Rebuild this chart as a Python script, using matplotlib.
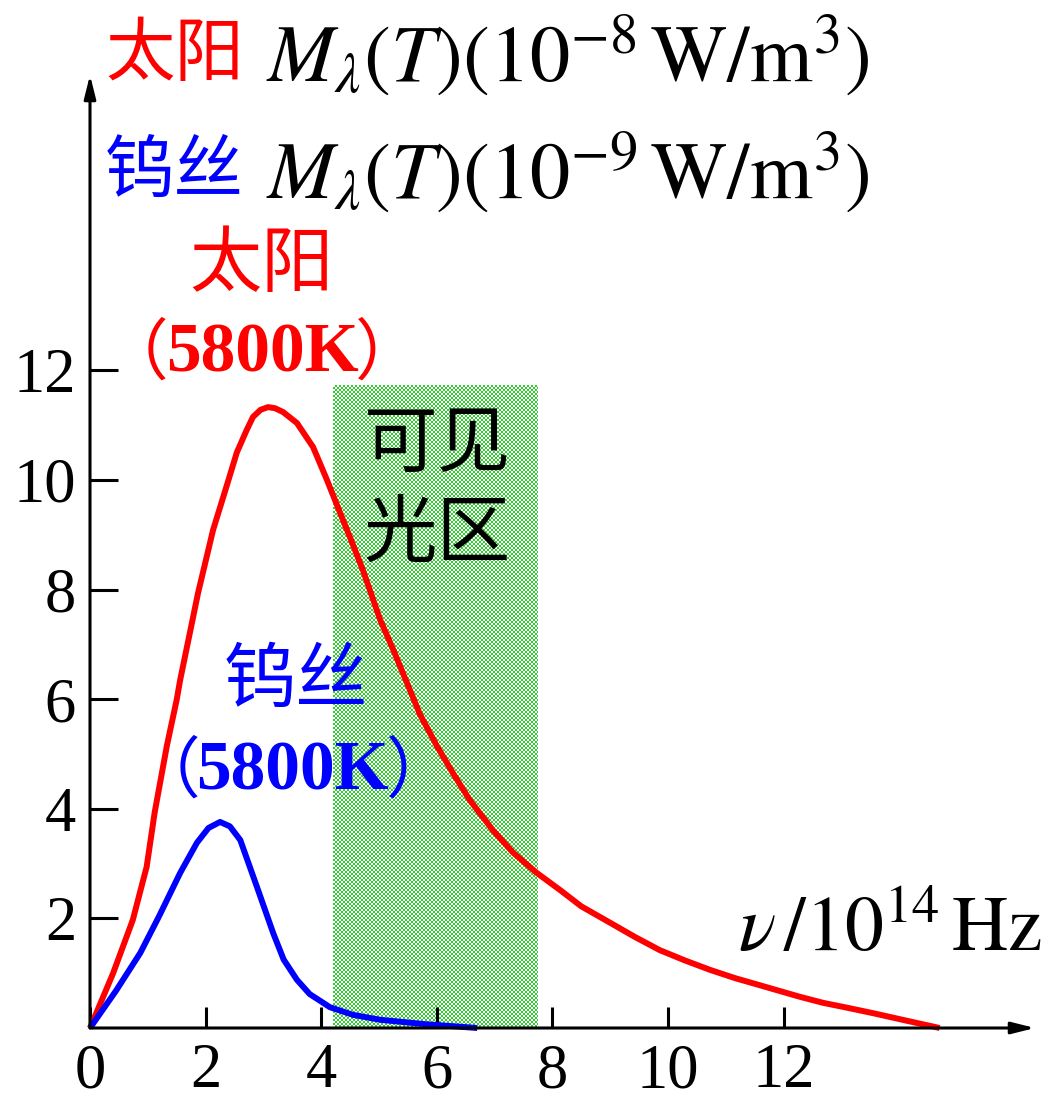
import numpy as np
import matplotlib
matplotlib.use('Agg')
import matplotlib.pyplot as plt

# values (x in 1e14 Hz)
sun_x = [0, 0.4, 0.74, 0.98, 1.12, 1.33, 1.5, 1.56, 1.87, 2.13, 2.37, 2.54, 2.71, 2.82,
         2.95, 3.08, 3.2, 3.34, 3.58, 3.86, 4.1, 4.27, 4.5, 4.72, 5.02, 5.24, 5.71, 6.0,
         6.28, 6.57, 6.97, 7.32, 7.73, 8.13, 8.5, 9.0, 9.43, 9.86, 10.3, 10.73, 11.16,
         11.59, 12.28, 12.68, 13.1, 13.55, 14.1, 14.7]
sun_y = [0, 1.0, 1.97, 2.94, 3.94, 5.15, 5.99, 6.35, 7.94, 9.09, 9.91, 10.5, 10.91, 11.15,
         11.28, 11.33, 11.31, 11.24, 11.04, 10.6, 10.0, 9.55, 8.95, 8.36, 7.45, 6.92, 5.72,
         5.15, 4.65, 4.16, 3.61, 3.2, 2.83, 2.52, 2.22, 1.92, 1.66, 1.42, 1.23, 1.06, 0.91,
         0.78, 0.57, 0.46, 0.37, 0.27, 0.14, 0.0]

wire_x = [0, 0.45, 0.87, 1.2, 1.56, 1.85, 2.05, 2.25, 2.42, 2.6, 2.89, 3.17, 3.35, 3.58,
          3.8, 4.15, 4.55, 5.02, 5.8, 6.7]
wire_y = [0, 0.68, 1.37, 2.05, 2.83, 3.38, 3.65, 3.76, 3.68, 3.43, 2.57, 1.73, 1.25, 0.88,
          0.62, 0.38, 0.24, 0.15, 0.07, 0.0]

visible = [4.2, 7.75]          # visible light band
visible_top = 11.73

xticks = [0, 2, 4, 6, 8, 10, 12]
yticks = [2, 4, 6, 8, 10, 12]

plt.rcParams['font.family'] = ['Liberation Serif', 'Noto Sans CJK SC']
plt.rcParams['mathtext.fontset'] = 'stix'

W, H = 1048, 1100
fig = plt.figure(figsize=(W / 100, H / 100), dpi=100)
ax = fig.add_axes([90 / W, 72 / H, 945 / W, 953 / H])
ax.set_xlim(0, 16.35)
ax.set_ylim(0, 17.39)
ax.patch.set_visible(False)
for s in ax.spines.values():
    s.set_visible(False)

# checkered green band, 2 px cells, placed through the data transform
(bx0, by0) = ax.transData.transform((visible[0], 0))
(bx1, by1) = ax.transData.transform((visible[1], visible_top))
bw, bh = int(round(bx1 - bx0)), int(round(by1 - by0))
ii, jj = np.meshgrid(np.arange(bh) // 2, np.arange(bw) // 2, indexing='ij')
mask = (ii + jj) % 2 == 1
rgb = np.ones((bh, bw, 3))
rgb[mask] = np.array([0x33, 0xcc, 0x33]) / 255.
fig.figimage(rgb, xo=int(round(bx0)), yo=int(round(by0)), zorder=-1)

ax.plot(sun_x, sun_y, color='#ff0000', lw=4.3, solid_joinstyle='round',
        solid_capstyle='butt', zorder=3, clip_on=False)
ax.plot(wire_x, wire_y, color='#0000ff', lw=4.3, solid_joinstyle='round',
        solid_capstyle='butt', zorder=3, clip_on=False)

# axes with arrows
arr = dict(arrowstyle='-|>,head_length=1.4,head_width=0.35', lw=2.2, color='black',
           shrinkA=0, shrinkB=0)
ax.annotate('', xy=(1, 0), xytext=(0, 0), xycoords='axes fraction', arrowprops=arr,
            annotation_clip=False, zorder=4)
ax.annotate('', xy=(0, 1), xytext=(0, 0), xycoords='axes fraction', arrowprops=arr,
            annotation_clip=False, zorder=4)

ax.set_xticks(xticks)
ax.set_yticks(yticks)
ax.tick_params(axis='x', direction='in', length=15, width=2.2, pad=11, labelsize=45)
ax.tick_params(axis='y', direction='in', length=20, width=2.2, pad=10, labelsize=45)

def ftext(x, y, s, **kw):
    fig.text(x / W, 1 - y / H, s, **kw)

# top labels
ftext(105, 55, '太阳', color='red', fontsize=50, va='center', family='Noto Sans CJK SC')
ftext(266, 55, r'$M_{\lambda}(T)(10^{-8}\,\mathrm{W/m^3})$', fontsize=58, va='center')
ftext(105, 172, '钨丝', color='blue', fontsize=50, va='center', family='Noto Sans CJK SC')
ftext(266, 172, r'$M_{\lambda}(T)(10^{-9}\,\mathrm{W/m^3})$', fontsize=58, va='center')

# curve labels
def temp_label(xl, xc, xr, y, c):
    ftext(xl, y, '（', color=c, fontsize=48, ha='right', va='center', family='Noto Sans CJK SC')
    ftext(xc, y, '5800K', color=c, fontsize=50, weight='bold', ha='center', va='center')
    ftext(xr, y, '）', color=c, fontsize=48, ha='left', va='center', family='Noto Sans CJK SC')

ftext(262, 268, '太阳', color='red', fontsize=52, ha='center', va='center')
temp_label(168, 262, 355, 355, 'red')
ftext(296, 684, '钨丝', color='blue', fontsize=52, ha='center', va='center')
temp_label(200, 292, 386, 773, 'blue')
ftext(437, 448, '可见', color='black', fontsize=53, ha='center', va='center')
ftext(437, 538, '光区', color='black', fontsize=53, ha='center', va='center')

ftext(1042, 932, r'$\nu\,/10^{14}\,\mathrm{Hz}$', fontsize=56, ha='right', va='center')

fig.savefig('out.png', dpi=100)
